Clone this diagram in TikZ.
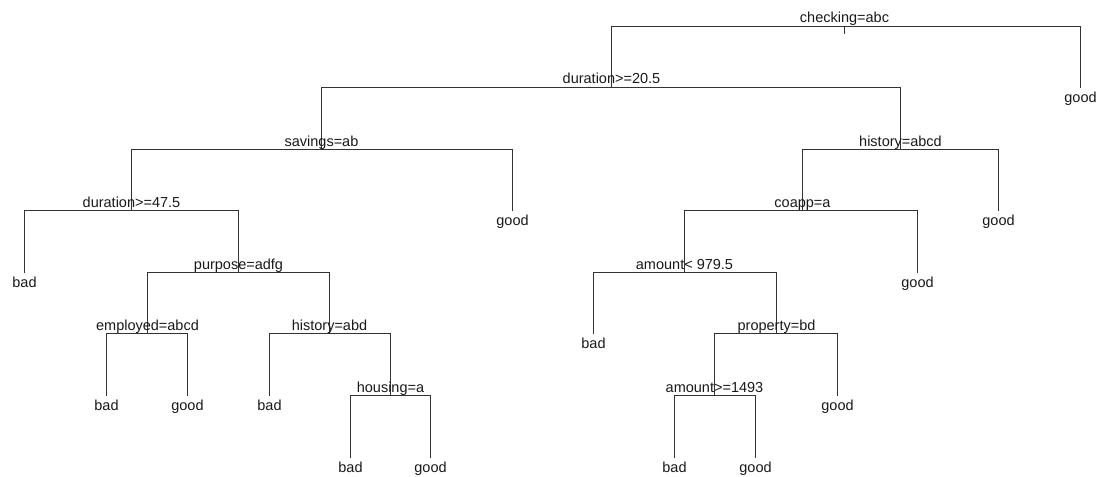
\documentclass[tikz,border=0pt]{standalone}
\usepackage{fontspec}
\setmainfont{Liberation Sans}
\usepackage{xcolor}

\begin{document}
\begin{tikzpicture}[x=1pt,y=-1pt,line cap=rect,font=\fontsize{14.5}{17}\selectfont,
  split/.style={anchor=base,inner sep=0pt,text=black!90,yshift=3.5pt},
  leaf/.style={anchor=base,inner sep=0pt,text=black!90,yshift=-15pt},
  branch/.style={draw=black!80,line width=1.2pt}]
\useasboundingbox (0,0) rectangle (1099,476);
% split points
\coordinate (chk) at (844.5,26.5);
\coordinate (dur) at (611.5,87.5);
\coordinate (sav) at (321.5,149.5);
\coordinate (hisB) at (900.5,149.5);
\coordinate (durb) at (131.5,210.5);
\coordinate (pur) at (238.5,272.5);
\coordinate (emp) at (147.5,333.5);
\coordinate (hisA) at (329.5,333.5);
\coordinate (hou) at (390.5,395.5);
\coordinate (coapp) at (802.5,210.5);
\coordinate (amt) at (684.5,272.5);
\coordinate (prop) at (776.5,333.5);
\coordinate (amtb) at (714.5,395.5);
% leaves
\coordinate (g1) at (1080.5,87.5);
\coordinate (g2) at (512.5,210.5);
\coordinate (b1) at (24.5,272.5);
\coordinate (b2) at (106.5,395.5);
\coordinate (g3) at (187.5,395.5);
\coordinate (b3) at (269.5,395.5);
\coordinate (b4) at (350.5,457.5);
\coordinate (g4) at (430.5,457.5);
\coordinate (g5) at (998.5,210.5);
\coordinate (g6) at (917.5,272.5);
\coordinate (b5) at (593.5,333.5);
\coordinate (g7) at (837.5,395.5);
\coordinate (b6) at (674.5,457.5);
\coordinate (g8) at (755.5,457.5);
% branches
\draw[branch] (chk) -- ++(0,7);
\draw[branch] (chk) -| (dur);
\draw[branch] (chk) -| (g1);
\draw[branch] (dur) -| (sav);
\draw[branch] (dur) -| (hisB);
\draw[branch] (sav) -| (durb);
\draw[branch] (sav) -| (g2);
\draw[branch] (durb) -| (b1);
\draw[branch] (durb) -| (pur);
\draw[branch] (pur) -| (emp);
\draw[branch] (pur) -| (hisA);
\draw[branch] (emp) -| (b2);
\draw[branch] (emp) -| (g3);
\draw[branch] (hisA) -| (b3);
\draw[branch] (hisA) -| (hou);
\draw[branch] (hou) -| (b4);
\draw[branch] (hou) -| (g4);
\draw[branch] (hisB) -| (coapp);
\draw[branch] (hisB) -| (g5);
\draw[branch] (coapp) -| (amt);
\draw[branch] (coapp) -| (g6);
\draw[branch] (amt) -| (b5);
\draw[branch] (amt) -| (prop);
\draw[branch] (prop) -| (amtb);
\draw[branch] (prop) -| (g7);
\draw[branch] (amtb) -| (b6);
\draw[branch] (amtb) -| (g8);
% split labels
\node[split] (chkT) at (chk) {checking=abc};
\node[split] (durT) at (dur) {duration>=20.5};
\node[split] (savT) at (sav) {savings=ab};
\node[split] (hisBT) at (hisB) {history=abcd};
\node[split] (durbT) at (durb) {duration>=47.5};
\node[split] (purT) at (pur) {purpose=adfg};
\node[split] (empT) at (emp) {employed=abcd};
\node[split] (hisAT) at (hisA) {history=abd};
\node[split] (houT) at (hou) {housing=a};
\node[split] (coappT) at (coapp) {coapp=a};
\node[split] (amtT) at (amt) {amount< 979.5};
\node[split] (propT) at (prop) {property=bd};
\node[split] (amtbT) at (amtb) {amount>=1493};
% leaf labels
\node[leaf] (g1T) at (g1) {good};
\node[leaf] (g2T) at (g2) {good};
\node[leaf] (b1T) at (b1) {bad};
\node[leaf] (b2T) at (b2) {bad};
\node[leaf] (g3T) at (g3) {good};
\node[leaf] (b3T) at (b3) {bad};
\node[leaf] (b4T) at (b4) {bad};
\node[leaf] (g4T) at (g4) {good};
\node[leaf] (g5T) at (g5) {good};
\node[leaf] (g6T) at (g6) {good};
\node[leaf] (b5T) at (b5) {bad};
\node[leaf] (g7T) at (g7) {good};
\node[leaf] (b6T) at (b6) {bad};
\node[leaf] (g8T) at (g8) {good};
\end{tikzpicture}
\end{document}
